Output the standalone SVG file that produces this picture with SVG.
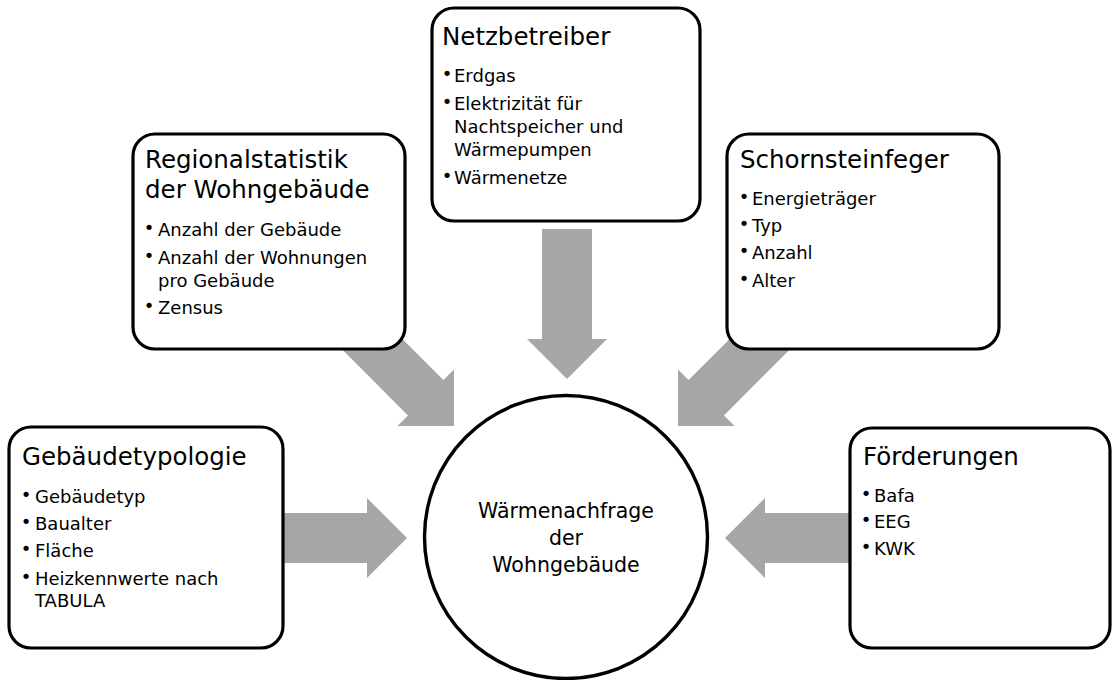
<svg xmlns="http://www.w3.org/2000/svg" width="1112" height="680" viewBox="0 0 1112 680">
<style>
.box{fill:#fff;stroke:#000;stroke-width:3.2}
.t{font-family:"DejaVu Sans",sans-serif;fill:#000}
.title{font-size:24.5px}
.item{font-size:18px}
.bul{font-size:18px;text-anchor:middle}
.ctr{font-size:20.5px;text-anchor:middle}
.arr{fill:#A6A6A6}
</style>
<defs>
<path id="arrow" d="M-150,-25 H-40 V-40 L0,0 L-40,40 V25 H-150 Z"/>
</defs>
<rect width="1112" height="680" fill="#fff"/>
<g id="connectors" class="arr">
<use href="#arrow" transform="translate(567,379) rotate(90)"/>
<use href="#arrow" transform="translate(454,426) rotate(45)"/>
<use href="#arrow" transform="translate(678,426) rotate(135)"/>
<use href="#arrow" transform="translate(407,538)"/>
<use href="#arrow" transform="translate(725,538) rotate(180)"/>
</g>
<g id="center">
<circle cx="566" cy="537" r="141.5" fill="#fff" stroke="#000" stroke-width="3.4"/>
<text class="t ctr" x="566" y="518">Wärmenachfrage</text>
<text class="t ctr" x="566" y="545">der</text>
<text class="t ctr" x="566" y="572">Wohngebäude</text>
</g>
<g id="netzbetreiber">
<rect class="box" x="432" y="8" width="268" height="213" rx="22"/>
<text class="t title" x="442" y="45">Netzbetreiber</text>
<text class="t bul" x="447" y="80">•</text>
<text class="t item" x="454" y="82">Erdgas</text>
<text class="t bul" x="447" y="108">•</text>
<text class="t item" x="454" y="110">Elektrizität für</text>
<text class="t item" x="454" y="133">Nachtspeicher und</text>
<text class="t item" x="454" y="156">Wärmepumpen</text>
<text class="t bul" x="447" y="182">•</text>
<text class="t item" x="454" y="184">Wärmenetze</text>
</g>
<g id="regionalstatistik">
<rect class="box" x="133" y="134" width="272" height="215" rx="22"/>
<text class="t title" x="145" y="168">Regionalstatistik</text>
<text class="t title" x="145" y="198">der Wohngebäude</text>
<text class="t bul" x="149" y="234">•</text>
<text class="t item" x="158" y="236">Anzahl der Gebäude</text>
<text class="t bul" x="149" y="262">•</text>
<text class="t item" x="158" y="264">Anzahl der Wohnungen</text>
<text class="t item" x="158" y="287">pro Gebäude</text>
<text class="t bul" x="149" y="312">•</text>
<text class="t item" x="158" y="314">Zensus</text>
</g>
<g id="schornsteinfeger">
<rect class="box" x="727" y="134" width="272" height="215" rx="22"/>
<text class="t title" x="740" y="168">Schornsteinfeger</text>
<text class="t bul" x="744" y="203">•</text>
<text class="t item" x="752" y="205">Energieträger</text>
<text class="t bul" x="744" y="230">•</text>
<text class="t item" x="752" y="232">Typ</text>
<text class="t bul" x="744" y="257">•</text>
<text class="t item" x="752" y="259">Anzahl</text>
<text class="t bul" x="744" y="285">•</text>
<text class="t item" x="752" y="287">Alter</text>
</g>
<g id="gebaeudetypologie">
<rect class="box" x="9" y="427" width="274" height="221" rx="22"/>
<text class="t title" x="22" y="465">Gebäudetypologie</text>
<text class="t bul" x="26" y="501">•</text>
<text class="t item" x="35" y="503">Gebäudetyp</text>
<text class="t bul" x="26" y="528">•</text>
<text class="t item" x="35" y="530">Baualter</text>
<text class="t bul" x="26" y="555">•</text>
<text class="t item" x="35" y="557">Fläche</text>
<text class="t bul" x="26" y="583">•</text>
<text class="t item" x="35" y="585">Heizkennwerte nach</text>
<text class="t item" x="35" y="607">TABULA</text>
</g>
<g id="foerderungen">
<rect class="box" x="850" y="428" width="260" height="220" rx="22"/>
<text class="t title" x="863" y="465">Förderungen</text>
<text class="t bul" x="866" y="500">•</text>
<text class="t item" x="874" y="502">Bafa</text>
<text class="t bul" x="866" y="526">•</text>
<text class="t item" x="874" y="528">EEG</text>
<text class="t bul" x="866" y="553">•</text>
<text class="t item" x="874" y="555">KWK</text>
</g>
</svg>
